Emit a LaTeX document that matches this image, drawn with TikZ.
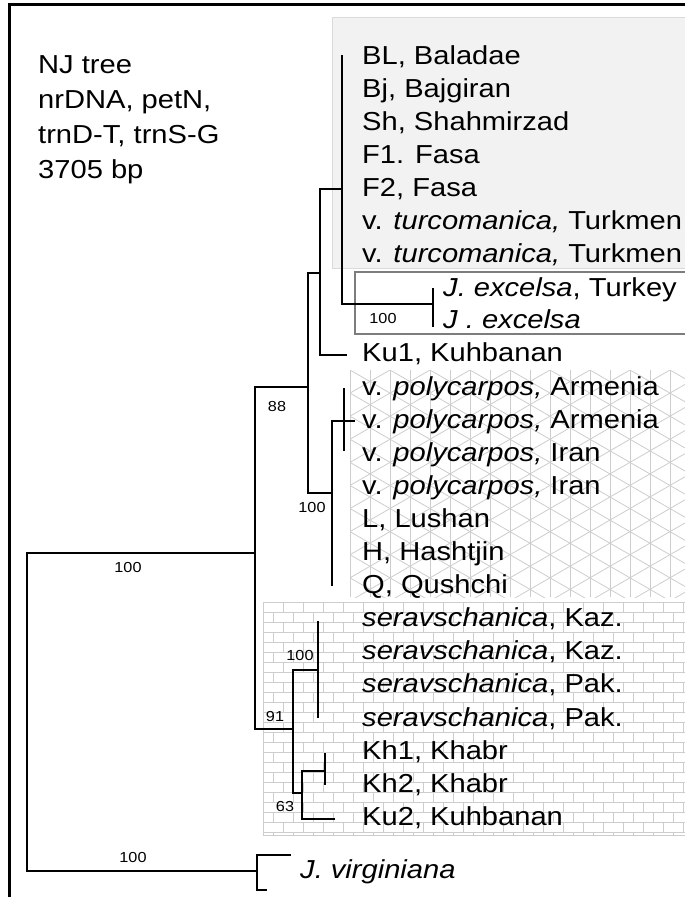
\documentclass[tikz,border=0pt]{standalone}
\usepackage{fontspec}
\setmainfont[FakeStretch=1.12]{Liberation Sans}
\usetikzlibrary{positioning}
\definecolor{BOX-GREY}{RGB}{242,242,242}
\definecolor{BOX-EDGE}{RGB}{218,218,218}
\definecolor{PAT-GREY}{RGB}{205,205,205}
\definecolor{EXC-EDGE}{RGB}{125,125,125}

\tikzset{
  branch/.style={line width=1.8pt},
  pat/.style={PAT-GREY, line width=0.8pt},
  taxon/.style={anchor=base west, inner sep=0pt, font=\fontsize{26}{30}\selectfont},
  boot/.style={inner sep=0pt, font=\fontsize{14.5}{16}\selectfont},
}

\begin{document}
\begin{tikzpicture}[x=1pt,y=-1pt]
  \useasboundingbox (0,0) rectangle (685,897);
  \clip (0,0) rectangle (685,897);

  % Frame (top and left edges)
  \draw[line width=3pt] (9,900) -- (9,4) -- (690,4);

  % Info text
  \foreach \txt [count=\i from 0] in {NJ tree, {nrDNA, petN,}, {trnD-T, trnS-G}, 3705 bp}
    \node[taxon] (info\i) at (38,73+\i*35) {\txt};

  % Grey box (first clade)
  \fill[BOX-GREY, draw=BOX-EDGE, line width=1pt] (332,17) rectangle (700,268);

  % Star pattern (polycarpos clade)
  \begin{scope}
    \clip (350,370) rectangle (685,597);
    \foreach \k in {0,...,17}
      \draw[pat] (350+\k*20,370) -- ++(0,227);
    \foreach \k in {-9,...,19} {
      \draw[pat] (350,370+\k*23.09) -- ++(340,196.3);
      \draw[pat] (350,370+\k*23.09) -- ++(340,-196.3);
    }
  \end{scope}

  % Brick pattern (seravschanica clade)
  \fill[white, draw=PAT-GREY, line width=1pt] (263,602) rectangle (700,835);
  \begin{scope}
    \clip (263,602) rectangle (685,835);
    \foreach \r in {0,...,23} {
      \draw[pat] (263,602+\r*10) -- ++(430,0);
      \pgfmathsetmacro\off{mod(\r,2)*10}
      \foreach \c in {0,...,22}
        \draw[pat] (263+\off+\c*20,602+\r*10) -- ++(0,10);
    }
  \end{scope}

  % Box round J. excelsa
  \draw[EXC-EDGE, line width=1.5pt, fill=white] (355,272) rectangle (700,334);

  % Leaf labels
  \foreach \txt [count=\i from 0] in {
      {BL, Baladae}, {Bj, Bajgiran}, {Sh, Shahmirzad}, {F1. Fasa}, {F2, Fasa},
      {v. \textit{turcomanica,} Turkmen}, {v. \textit{turcomanica,} Turkmen},
      {}, {}, {Ku1, Kuhbanan},
      {v. \textit{polycarpos,} Armenia}, {v. \textit{polycarpos,} Armenia},
      {v. \textit{polycarpos,} Iran}, {v. \textit{polycarpos,} Iran},
      {L, Lushan}, {H, Hashtjin}, {Q, Qushchi},
      {\textit{seravschanica}, Kaz.}, {\textit{seravschanica}, Kaz.},
      {\textit{seravschanica}, Pak.}, {\textit{seravschanica}, Pak.},
      {Kh1, Khabr}, {Kh2, Khabr}, {Ku2, Kuhbanan}}
    \node[taxon] (t\i) at (362,64+\i*33.1) {\txt};
  \node[taxon] (exc1) at (443,296) {\textit{J. excelsa}, Turkey};
  \node[taxon] (exc2) at (443,328) {\textit{J . excelsa}};
  \node[taxon] (virg) at (300,878) {\textit{J. virginiana}};

  % Internal nodes
  \coordinate (root) at (27,712);
  \coordinate (A) at (255,553);
  \coordinate (B) at (308,387);
  \coordinate (C) at (320,273);
  \coordinate (D) at (342,189);
  \coordinate (X) at (433,304);
  \coordinate (E) at (332,493);
  \coordinate (P) at (344,421);
  \coordinate (F) at (293,729);
  \coordinate (S) at (318,670);
  \coordinate (G) at (302,793);
  \coordinate (K) at (325,771);
  \coordinate (V) at (257,871);

  % Branch ends
  \coordinate (d-top) at (342,55);
  \coordinate (x-top) at (433,288);
  \coordinate (x-bot) at (433,327);
  \coordinate (ku1) at (347,355);
  \coordinate (p-top) at (344,388);
  \coordinate (p-bot) at (344,451);
  \coordinate (pa2) at (355,421);
  \coordinate (e-bot) at (332,586);
  \coordinate (s-top) at (318,621);
  \coordinate (s-bot) at (318,718);
  \coordinate (k-top) at (325,753);
  \coordinate (k-bot) at (325,785);
  \coordinate (ku2) at (335,819);
  \coordinate (v-top) at (291,855);
  \coordinate (v-bot) at (267,890);

  % Branches
  \draw[branch] (root) |- (A);
  \draw[branch] (root) |- (V);
  \draw[branch] (A) |- (B);
  \draw[branch] (A) |- (F);
  \draw[branch] (B) |- (C);
  \draw[branch] (B) |- (E);
  \draw[branch] (C) |- (D);
  \draw[branch] (C) |- (ku1);
  \draw[branch] (D) -- (d-top);
  \draw[branch] (D) |- (X);
  \draw[branch] (x-top) -- (x-bot);
  \draw[branch] (E) |- (P);
  \draw[branch] (P) -- (pa2);
  \draw[branch] (E) -- (e-bot);
  \draw[branch] (p-top) -- (p-bot);
  \draw[branch] (F) |- (S);
  \draw[branch] (F) |- (G);
  \draw[branch] (s-top) -- (s-bot);
  \draw[branch] (G) |- (K);
  \draw[branch] (G) |- (ku2);
  \draw[branch] (k-top) -- (k-bot);
  \draw[branch] (v-top) -| (V) |- (v-bot);

  % Bootstrap values
  \node[boot] (bs-root) at (128,568) {100};
  \node[boot] (bs-virg) at (133,857) {100};
  \node[boot] (bs-B) at (277,407) {88};
  \node[boot] (bs-X) at (383,319) {100};
  \node[boot] (bs-E) at (312,508) {100};
  \node[boot] (bs-S) at (300,656) {100};
  \node[boot] (bs-F) at (275,716) {91};
  \node[boot] (bs-G) at (285,806) {63};
\end{tikzpicture}
\end{document}
